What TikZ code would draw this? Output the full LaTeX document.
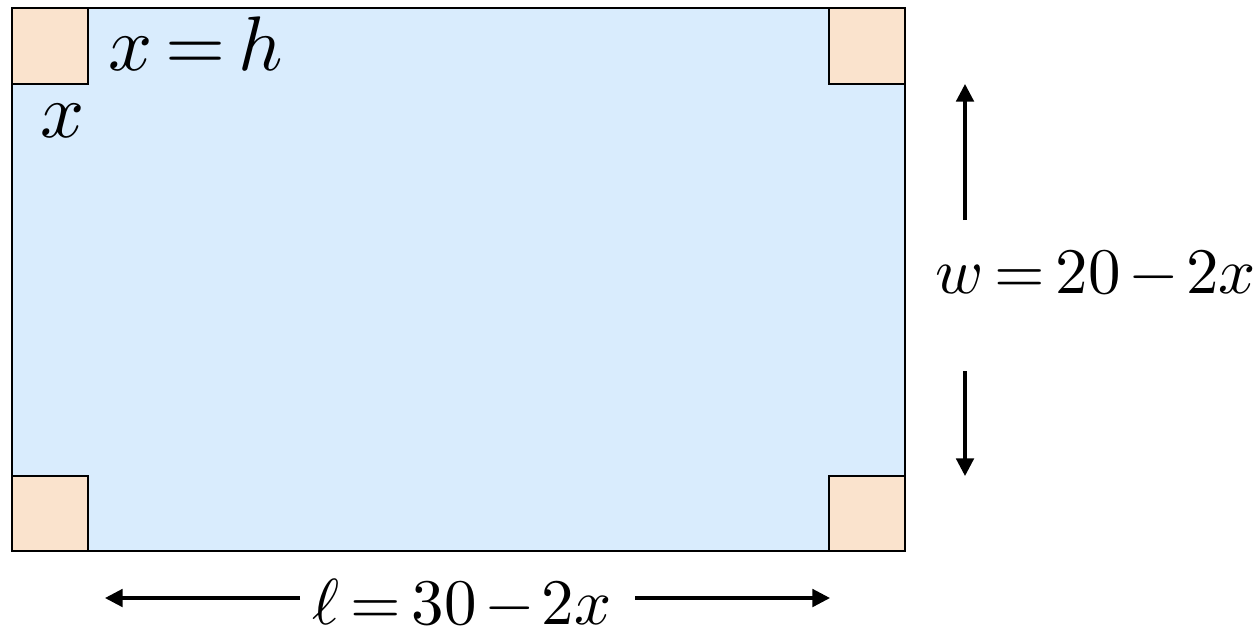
\documentclass[tikz,border=0pt]{standalone}
\usepackage{graphicx}
\usetikzlibrary{arrows.meta}
\definecolor{boxblue}{RGB}{217,236,253}
\definecolor{peach}{RGB}{250,227,205}
\newcommand{\biglbl}[1]{\scalebox{4.4}{#1}}
\newcommand{\dimlbl}[1]{\scalebox{3.7}{#1}}
\newcommand{\eqs}{\mkern3mu{=}\mkern3mu}
\newcommand{\mns}{\mkern2mu{-}\mkern2mu}
\tikzset{
  sheet/.style={draw=black, line width=1.4pt, fill=boxblue},
  corner/.style={draw=black, line width=1.4pt, fill=peach},
  dimarrow/.style={line width=1.8pt, -{Triangle[length=10pt,width=10pt]}},
  lbl/.style={inner sep=0pt}
}
\begin{document}
\begin{tikzpicture}[x=0.02cm,y=-0.02cm]
\useasboundingbox (0,0) rectangle (1260,630);
\draw[sheet] (12,8) rectangle (905,551);
\draw[corner] (12,8) rectangle (88,84);
\draw[corner] (829,8) rectangle (905,84);
\draw[corner] (12,476) rectangle (88,551);
\draw[corner] (829,476) rectangle (905,551);
\node[lbl, anchor=base west] (xh) at (108,70) {\biglbl{$x\mkern3mu{=}\mkern3mu h$}};
\node[lbl, anchor=base west] (xl) at (40,137) {\biglbl{$x$}};
\node[lbl, anchor=base east] (wl) at (1256,293) {\dimlbl{$w\eqs 20\mns 2x$}};
\node[lbl, anchor=base] (ll) at (462,624) {\dimlbl{$\ell\eqs 30\mns 2x$}};
\coordinate (wtop) at (965,84);
\coordinate (wbot) at (965,476);
\coordinate (wup) at (965,220);
\coordinate (wdn) at (965,371);
\coordinate (lleft) at (105,598);
\coordinate (lright) at (830,598);
\coordinate (lls) at (300,598);
\coordinate (lrs) at (635,598);
\draw[dimarrow] (wup) -- (wtop);
\draw[dimarrow] (wdn) -- (wbot);
\draw[dimarrow] (lls) -- (lleft);
\draw[dimarrow] (lrs) -- (lright);
\end{tikzpicture}
\end{document}
